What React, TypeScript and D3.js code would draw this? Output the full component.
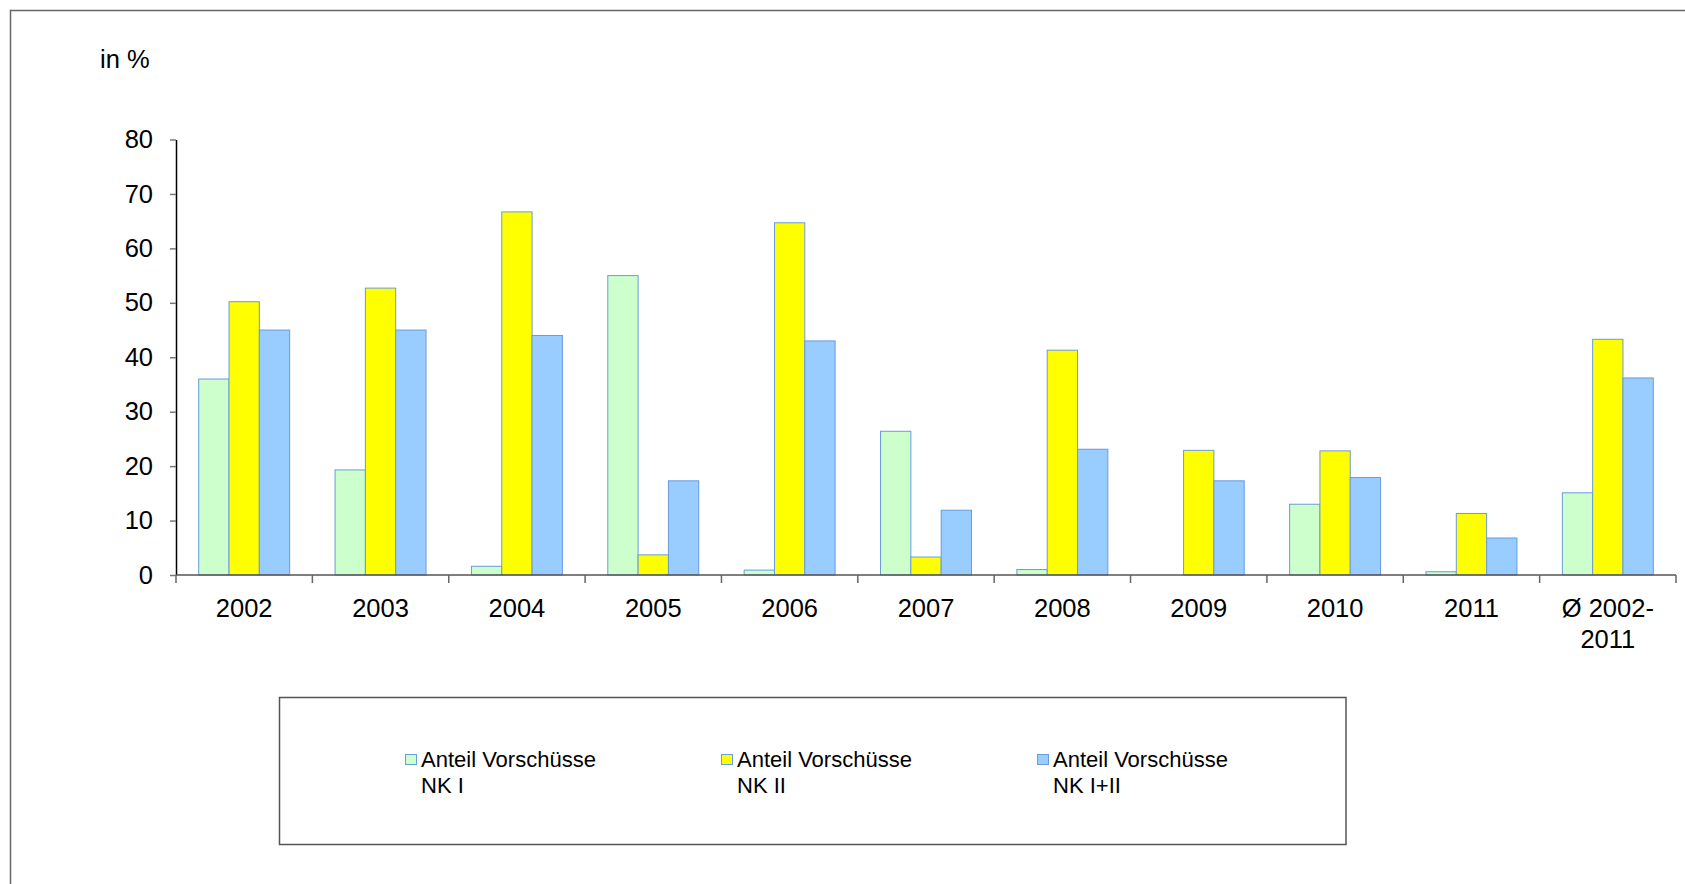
import React, { useEffect, useRef } from 'react';
import * as d3 from 'd3';

// Categories and their (possibly multi-line) tick labels
const categories = ['2002', '2003', '2004', '2005', '2006', '2007', '2008', '2009', '2010', '2011', 'avg'];
const categoryLabels = [
  ['2002'], ['2003'], ['2004'], ['2005'], ['2006'], ['2007'],
  ['2008'], ['2009'], ['2010'], ['2011'], ['Ø 2002-', '2011'],
];

// Series values (in %)
const nk1 = [36.0, 19.3, 1.6, 55.0, 0.9, 26.4, 1.0, 0, 13.0, 0.6, 15.1];
const nk2 = [50.2, 52.7, 66.7, 3.7, 64.7, 3.3, 41.3, 22.9, 22.8, 11.3, 43.3];
const nk12 = [45.0, 45.0, 44.0, 17.3, 43.0, 11.9, 23.1, 17.3, 17.9, 6.8, 36.2];

const seriesKeys = ['nk1', 'nk2', 'nk12'];
const seriesValues = [nk1, nk2, nk12];
const seriesColors = ['#CCFFCC', '#FFFF00', '#99CCFF'];
const seriesLegend = [
  ['Anteil Vorschüsse', 'NK I'],
  ['Anteil Vorschüsse', 'NK II'],
  ['Anteil Vorschüsse', 'NK I+II'],
];

const yTicks = [0, 10, 20, 30, 40, 50, 60, 70, 80];

const WIDTH = 1685;
const HEIGHT = 884;
const FONT = '"Liberation Sans", Arial, sans-serif';

export default function App() {
  const svgRef = useRef<SVGSVGElement>(null);

  useEffect(() => {
    if (!svgRef.current) return;
    const svg = d3.select(svgRef.current);
    svg.selectAll('*').remove();

    // Outer frame (right and bottom run off the picture)
    svg.append('rect')
      .attr('x', 10.5)
      .attr('y', 10.5)
      .attr('width', 1720)
      .attr('height', 920)
      .attr('fill', '#fff')
      .attr('stroke', '#666')
      .attr('stroke-width', 1.5);

    // Scales
    const xScale = d3.scaleBand<string>()
      .domain(categories)
      .range([176, 1676])
      .paddingInner(0)
      .paddingOuter(0);

    const bw = xScale.bandwidth();
    const inner = d3.scaleBand<string>()
      .domain(seriesKeys)
      .range([bw * 0.1665, bw * 0.8335])
      .padding(0);

    const yScale = d3.scaleLinear()
      .domain([0, 80])
      .range([575, 139.5]);

    // Bars
    seriesKeys.forEach((key, si) => {
      svg.append('g')
        .selectAll('rect')
        .data(seriesValues[si].map((v, i) => ({ cat: categories[i], v })))
        .join('rect')
        .filter(d => d.v > 0)
        .attr('x', d => (xScale(d.cat) as number) + (inner(key) as number))
        .attr('y', d => yScale(d.v))
        .attr('width', inner.bandwidth())
        .attr('height', d => yScale(0) - yScale(d.v))
        .attr('fill', seriesColors[si])
        .attr('stroke', '#6A9BDB')
        .attr('stroke-width', 1);
    });

    // Y axis
    const yAxis = svg.append('g')
      .attr('transform', 'translate(176,0)')
      .call(d3.axisLeft(yScale)
        .tickValues(yTicks)
        .tickSize(6)
        .tickSizeOuter(0)
        .tickPadding(17)
        .tickFormat(d => `${d}`));
    yAxis.select('.domain').attr('stroke', '#000').attr('stroke-width', 1.5);
    yAxis.selectAll('.tick line').attr('stroke', '#777').attr('stroke-width', 1.5);
    yAxis.selectAll('text')
      .style('font-family', FONT)
      .style('font-size', '25.5px')
      .attr('fill', '#000');

    // X axis line
    svg.append('line')
      .attr('x1', 176)
      .attr('x2', 1676)
      .attr('y1', yScale(0))
      .attr('y2', yScale(0))
      .attr('stroke', '#555')
      .attr('stroke-width', 1.5);

    // Boundary ticks between categories
    const bounds = categories.map(c => xScale(c) as number).concat([xScale.range()[1]]);
    svg.append('g')
      .selectAll('line')
      .data(bounds)
      .join('line')
      .attr('x1', d => d)
      .attr('x2', d => d)
      .attr('y1', yScale(0))
      .attr('y2', yScale(0) + 8)
      .attr('stroke', '#666')
      .attr('stroke-width', 1.5);

    // Category labels
    const labels = svg.append('g')
      .selectAll('text')
      .data(categories)
      .join('text')
      .attr('x', d => (xScale(d) as number) + bw / 2)
      .attr('y', 617)
      .attr('text-anchor', 'middle')
      .style('font-family', FONT)
      .style('font-size', '25.5px')
      .attr('fill', '#000');
    labels.each(function (_, i) {
      const t = d3.select(this);
      categoryLabels[i].forEach((line, li) => {
        t.append('tspan')
          .attr('x', (xScale(categories[i]) as number) + bw / 2)
          .attr('dy', li === 0 ? 0 : 31)
          .text(line);
      });
    });

    // Unit label
    svg.append('text')
      .attr('x', 100)
      .attr('y', 68)
      .style('font-family', FONT)
      .style('font-size', '25.5px')
      .attr('fill', '#000')
      .text('in %');

    // Legend box
    svg.append('rect')
      .attr('x', 279.5)
      .attr('y', 697.5)
      .attr('width', 1066.5)
      .attr('height', 147)
      .attr('fill', '#fff')
      .attr('stroke', '#555')
      .attr('stroke-width', 1.5);

    const legendX = [405, 721, 1037];
    seriesKeys.forEach((key, si) => {
      const g = svg.append('g').attr('transform', `translate(${legendX[si]},0)`);
      g.append('rect')
        .attr('x', 0.5)
        .attr('y', 754.5)
        .attr('width', 11)
        .attr('height', 10)
        .attr('fill', seriesColors[si])
        .attr('stroke', '#6A9BDB')
        .attr('stroke-width', 1);
      const t = g.append('text')
        .style('font-family', FONT)
        .style('font-size', '22px')
        .attr('fill', '#000');
      seriesLegend[si].forEach((line, li) => {
        t.append('tspan')
          .attr('x', 16)
          .attr('y', 767 + li * 26)
          .text(line);
      });
    });
  }, []);

  return (
    <svg
      ref={svgRef}
      width={WIDTH}
      height={HEIGHT}
      style={{ position: 'absolute', left: 0, top: 0, background: '#fff' }}
    />
  );
}
